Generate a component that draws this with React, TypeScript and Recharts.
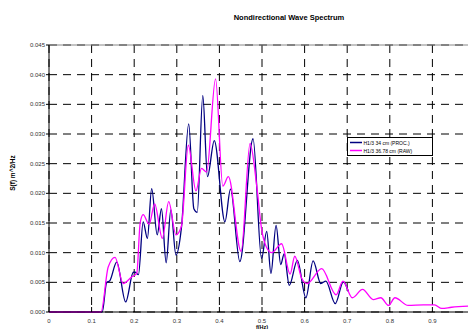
import React from 'react';
import { LineChart, Line, XAxis, YAxis, CartesianGrid, ReferenceLine } from 'recharts';

// frequencies (Hz) and spectral density (m^2/Hz)
const procFreq = [0, 0.12, 0.125, 0.135, 0.143, 0.159, 0.18, 0.198, 0.202, 0.21, 0.221, 0.231, 0.241, 0.254, 0.264, 0.275, 0.286, 0.298, 0.311, 0.328, 0.34, 0.348, 0.361, 0.372, 0.388, 0.413, 0.426, 0.448, 0.479, 0.499, 0.511, 0.521, 0.533, 0.544, 0.552, 0.564, 0.583, 0.603, 0.62, 0.638, 0.65, 0.672, 0.691, 0.703];
const procDensity = [0, 0, 0, 0.0049, 0.0053, 0.0084, 0.0017, 0.0067, 0.0067, 0.0063, 0.0152, 0.0124, 0.0208, 0.013, 0.0174, 0.0083, 0.0172, 0.0096, 0.0143, 0.0317, 0.0174, 0.0168, 0.0365, 0.0228, 0.0289, 0.0152, 0.0207, 0.0085, 0.0292, 0.009, 0.0136, 0.0065, 0.0146, 0.008, 0.0098, 0.0045, 0.0087, 0.0024, 0.0086, 0.0048, 0.0052, 0.0014, 0.0051, 0.0034];

const rawFreq = [0, 0.122, 0.139, 0.155, 0.174, 0.194, 0.206, 0.214, 0.221, 0.235, 0.248, 0.266, 0.281, 0.298, 0.311, 0.327, 0.345, 0.358, 0.37, 0.391, 0.408, 0.421, 0.451, 0.472, 0.488, 0.499, 0.51, 0.523, 0.546, 0.566, 0.577, 0.593, 0.606, 0.64, 0.674, 0.69, 0.712, 0.736, 0.761, 0.779, 0.797, 0.812, 0.843, 0.879, 0.905, 0.922, 0.945, 0.99];
const rawDensity = [0, 0, 0.0076, 0.0092, 0.0048, 0.0059, 0.0065, 0.015, 0.0164, 0.0148, 0.0182, 0.0124, 0.0186, 0.013, 0.0145, 0.0281, 0.0204, 0.0242, 0.0236, 0.0393, 0.0212, 0.0228, 0.0102, 0.0284, 0.021, 0.014, 0.011, 0.01, 0.0115, 0.0064, 0.0094, 0.0057, 0.0048, 0.0073, 0.0029, 0.0052, 0.0024, 0.0038, 0.0021, 0.0024, 0.0011, 0.0024, 0.0011, 0.0012, 0.0012, 0.0006, 0.0008, 0.001];

const xTicks = [0, 0.1, 0.2, 0.3, 0.4, 0.5, 0.6, 0.7, 0.8, 0.9];
const yTicks = [0, 0.005, 0.01, 0.015, 0.02, 0.025, 0.03, 0.035, 0.04, 0.045];

const procData = procFreq.map((f, i) => ({ f, s: procDensity[i] }));
const rawData = rawFreq.map((f, i) => ({ f, s: rawDensity[i] }));

const font = '"Liberation Sans", Arial, sans-serif';

const series = [
  { name: 'H1/3 34 cm (PROC.)', color: '#000080' },
  { name: 'H1/3 36.78 cm (RAW)', color: '#ff00ff' },
];

const XTick = (props: any) => {
  const { x, y, payload } = props;
  return (
    <g>
      <line x1={x} y1={y} x2={x} y2={y - 5} stroke="#000" />
      <text x={x} y={y + 11} textAnchor="middle" fontSize={6} fontFamily={font} fill="#333">
        {payload.value}
      </text>
    </g>
  );
};

// legend box drawn in the svg, top-right of the plot
const LegendBox = () => (
  <g>
    <rect x={347.5} y={137.5} width={85} height={18} fill="#fff" stroke="#000" />
    {series.map((s, i) => (
      <g key={s.name}>
        <line x1={350} y1={142.5 + i * 8} x2={362} y2={142.5 + i * 8} stroke={s.color} strokeWidth={1.5} />
        <text x={363.5} y={144.5 + i * 8} fontSize={5} fontFamily={font} fill="#000">
          {s.name}
        </text>
      </g>
    ))}
  </g>
);

export default function App() {
  return (
    <div style={{ position: 'absolute', left: 0, top: 0, width: 468, height: 329, overflow: 'hidden', background: '#fff' }}>
      <LineChart width={480} height={329} margin={{ top: 45, right: 5, bottom: 0, left: 9 }}>
        <ReferenceLine y={0.045} stroke="#888" />
        <CartesianGrid stroke="#000" strokeDasharray="8 6" />
        <XAxis
          type="number"
          dataKey="f"
          domain={[0, 1]}
          ticks={xTicks}
          height={17}
          tickSize={0}
          tickMargin={0}
          tick={<XTick />}
          axisLine={{ stroke: '#000' }}
        />
        <YAxis
          type="number"
          domain={[0, 0.045]}
          ticks={yTicks}
          width={40}
          tickSize={3}
          tickMargin={1}
          tickFormatter={(v: number) => v.toFixed(3)}
          tick={{ fontSize: 6, fontFamily: font, fill: '#333' }}
          tickLine={{ stroke: '#000' }}
          axisLine={{ stroke: '#000' }}
        />
        <Line data={procData} dataKey="s" name={series[0].name} type="monotone" stroke={series[0].color} strokeWidth={1.3} dot={false} isAnimationActive={false} />
        <Line data={rawData} dataKey="s" name={series[1].name} type="monotone" stroke={series[1].color} strokeWidth={1.3} dot={false} isAnimationActive={false} />
        <LegendBox />
        <text x={289} y={20} textAnchor="middle" fontSize={7.5} fontWeight="bold" fontFamily={font} fill="#000">
          Nondirectional Wave Spectrum
        </text>
        <text x={12} y={173} transform="rotate(-90, 12, 173)" textAnchor="middle" dominantBaseline="central" fontSize={6.5} fontWeight="bold" fontFamily={font} fill="#000">
          S(f) m^2/Hz
        </text>
        <text x={262} y={328.5} textAnchor="middle" fontSize={5.5} fontWeight="bold" fontFamily={font} fill="#000">
          f(Hz)
        </text>
      </LineChart>
    </div>
  );
}
